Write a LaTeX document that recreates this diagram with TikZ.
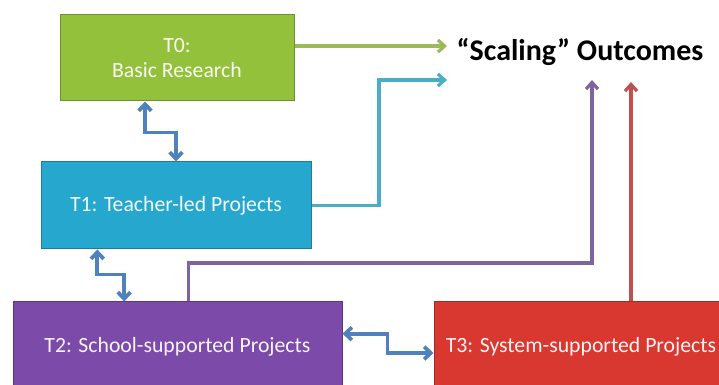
\documentclass[tikz,border=0pt]{standalone}
\usepackage{fontspec}
\setmainfont{Carlito}
\usetikzlibrary{arrows.meta}

\definecolor{tzgreen}{RGB}{148,193,60}
\definecolor{tzcyan}{RGB}{38,168,206}
\definecolor{tzpurple}{RGB}{124,74,168}
\definecolor{tzred}{RGB}{216,56,48}
\definecolor{lkgreen}{RGB}{155,187,89}
\definecolor{lkcyan}{RGB}{75,172,198}
\definecolor{lkpurple}{RGB}{128,100,162}
\definecolor{lkred}{RGB}{192,80,77}
\definecolor{lkblue}{RGB}{79,129,189}

\tikzset{every picture/.style={line width=0.75pt}}

\begin{document}
\begin{tikzpicture}[x=0.75pt,y=0.75pt,yscale=-1,xscale=1,
  tier/.style={draw=#1!75!black, fill=#1, text=white!94!#1, inner sep=0pt, align=center, font=\fontsize{16.3}{19}\selectfont},
  link/.style={draw=#1, line width=2.4pt, -{Straight Barb[length=5pt,width=9pt]}},
  twoway/.style={draw=lkblue, line width=2.8pt, {Straight Barb[length=5pt,width=9.5pt]}-{Straight Barb[length=5pt,width=9.5pt]}}
]
%set diagram size: 719 x 385
\clip (0,0) rectangle (719,385);

%Shape: Rectangle [T0]
\node [tier=tzgreen, minimum width=175.5pt, minimum height=64.5pt] (t0) at (177,58) {T0:\\Basic Research};
%Shape: Rectangle [T1]
\node [tier=tzcyan, minimum width=202.5pt, minimum height=65.25pt] (t1) at (176,205.5) {T1: Teacher-led Projects};
%Shape: Rectangle [T2]
\node [tier=tzpurple, minimum width=246.75pt, minimum height=67.5pt] (t2) at (177.5,347) {T2: School-supported Projects};
%Shape: Rectangle [T3]
\node [tier=tzred, minimum width=220.5pt, minimum height=67.5pt] (t3) at (581,347) {T3: System-supported Projects};

% Text Node
\node [font=\bfseries\fontsize{22.5}{26}\selectfont, inner sep=0.75pt] (outcomes) at (580,52) {“Scaling” Outcomes};

% arrow ends near the title
\coordinate (g0) at (447,46);
\coordinate (c1) at (447,80);
\coordinate (p2) at (592,80);
\coordinate (r3) at (631,82);

%Connectors to outcomes
\draw [link=lkgreen] (t0.east |- g0) -- (g0);
\draw [link=lkcyan] (t1.east) -| (379,80) -- (c1);
\draw [link=lkpurple] ([xshift=8pt]t2.north) |- (592,263) -- (p2);
\draw [link=lkred] (t3.north -| r3) -- (r3);

%Connectors between tiers
\draw [twoway] ([xshift=-24pt]t0.south) -- ++(0,31) -| (t1.north);
\draw [twoway] ([xshift=-59pt]t1.south) -- ++(0,25) -| ([xshift=-40pt]t2.north);
\draw [twoway] ([yshift=-10pt]t2.east) -- ++(45,0) |- ([yshift=4.5pt]t3.west);

\end{tikzpicture}
\end{document}
